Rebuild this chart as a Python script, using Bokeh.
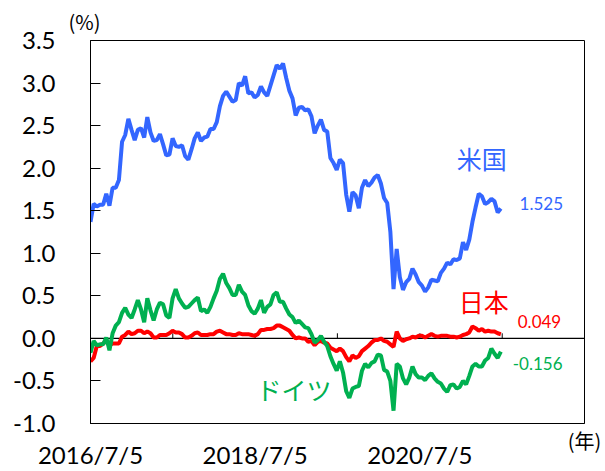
import pandas as pd
from bokeh.plotting import figure
from bokeh.models import (ColumnDataSource, Range1d, FixedTicker, NumeralTickFormatter,
                          Span, Label, Title, DatetimeAxis)
from bokeh.embed import file_html
from bokeh.resources import INLINE

# ---- data (10-year government bond yields, %, read every two weeks) ----
start_date = "2016-07-05"
n_points = 131
dates = pd.date_range(start_date, periods=n_points, freq="14D")

us = [1.37, 1.58, 1.55, 1.57, 1.57, 1.70, 1.56, 1.77, 1.77, 1.86,
      2.31, 2.39, 2.58, 2.45, 2.33, 2.45, 2.47, 2.36, 2.60, 2.42,
      2.32, 2.33, 2.40, 2.28, 2.15, 2.16, 2.35, 2.26, 2.25, 2.27,
      2.14, 2.10, 2.22, 2.35, 2.42, 2.32, 2.36, 2.37, 2.46, 2.46,
      2.54, 2.73, 2.85, 2.90, 2.84, 2.78, 2.80, 3.00, 2.97, 3.08,
      2.88, 2.89, 2.83, 2.86, 2.96, 2.89, 2.85, 2.97, 3.09, 3.21,
      3.17, 3.23, 3.06, 2.91, 2.82, 2.62, 2.71, 2.72, 2.68, 2.69,
      2.61, 2.41, 2.50, 2.57, 2.45, 2.43, 2.12, 2.06, 1.98, 2.10,
      2.06, 1.69, 1.49, 1.72, 1.68, 1.53, 1.77, 1.86, 1.79, 1.83,
      1.89, 1.92, 1.82, 1.65, 1.59, 1.25, 0.58, 1.05, 0.72, 0.57,
      0.66, 0.70, 0.82, 0.75, 0.66, 0.62, 0.55, 0.60, 0.69, 0.68,
      0.67, 0.77, 0.82, 0.89, 0.87, 0.93, 0.92, 0.94, 1.13, 1.04,
      1.16, 1.37, 1.54, 1.70, 1.67, 1.58, 1.60, 1.64, 1.61, 1.48,
      1.525]

jp = [-0.27, -0.23, -0.09, -0.09, -0.06, -0.03, -0.08, -0.06, -0.06, -0.06,
      0.02, 0.04, 0.08, 0.05, 0.06, 0.09, 0.09, 0.06, 0.08, 0.06,
      0.01, 0.01, 0.04, 0.04, 0.04, 0.06, 0.09, 0.07, 0.07, 0.05,
      0.01, 0.01, 0.03, 0.06, 0.07, 0.04, 0.04, 0.04, 0.05, 0.05,
      0.08, 0.09, 0.07, 0.05, 0.05, 0.04, 0.04, 0.06, 0.05, 0.05,
      0.05, 0.04, 0.03, 0.05, 0.10, 0.10, 0.11, 0.11, 0.12, 0.15,
      0.15, 0.13, 0.11, 0.09, 0.04, 0.00, 0.01, 0.00, 0.00, -0.04,
      -0.03, -0.08, -0.04, -0.03, -0.05, -0.06, -0.11, -0.13, -0.15, -0.12,
      -0.15, -0.22, -0.27, -0.20, -0.23, -0.21, -0.15, -0.12, -0.09, -0.05,
      -0.02, -0.02, 0.00, -0.03, -0.04, -0.07, -0.10, 0.08, 0.00, -0.03,
      -0.01, 0.00, 0.02, 0.01, 0.03, 0.03, 0.01, 0.03, 0.05, 0.03,
      0.02, 0.03, 0.03, 0.03, 0.02, 0.02, 0.01, 0.02, 0.04, 0.05,
      0.07, 0.14, 0.12, 0.09, 0.11, 0.08, 0.09, 0.08, 0.08, 0.06,
      0.049]

de = [-0.17, -0.03, -0.08, -0.07, -0.07, 0.01, -0.14, 0.06, 0.15, 0.19,
      0.30, 0.36, 0.28, 0.24, 0.34, 0.45, 0.34, 0.19, 0.47, 0.33,
      0.21, 0.34, 0.42, 0.40, 0.27, 0.24, 0.47, 0.58, 0.47, 0.41,
      0.36, 0.37, 0.41, 0.45, 0.48, 0.32, 0.34, 0.30, 0.37, 0.47,
      0.56, 0.70, 0.76, 0.65, 0.59, 0.51, 0.51, 0.63, 0.55, 0.51,
      0.39, 0.32, 0.29, 0.35, 0.45, 0.30, 0.37, 0.40, 0.51, 0.54,
      0.43, 0.43, 0.35, 0.28, 0.25, 0.18, 0.21, 0.17, 0.13, 0.12,
      0.05, -0.05, -0.02, 0.03, -0.04, -0.09, -0.21, -0.30, -0.38, -0.27,
      -0.40, -0.62, -0.70, -0.59, -0.57, -0.56, -0.38, -0.30, -0.34, -0.29,
      -0.27, -0.19, -0.20, -0.37, -0.39, -0.50, -0.85, -0.30, -0.33, -0.47,
      -0.54, -0.46, -0.33, -0.42, -0.46, -0.46, -0.49, -0.44, -0.41, -0.47,
      -0.51, -0.53, -0.59, -0.63, -0.55, -0.54, -0.59, -0.57, -0.50, -0.54,
      -0.44, -0.33, -0.30, -0.33, -0.33, -0.26, -0.23, -0.12, -0.18, -0.23,
      -0.156]

series_names = ["米国", "日本", "ドイツ"]
last_labels = ["1.525", "0.049", "-0.156"]

x_label_dates = ["2016-07-05", "2018-07-05", "2020-07-05"]
x_label_texts = ["2016/7/5", "2018/7/5", "2020/7/5"]
year_tick_dates = ["2017-07-05", "2018-07-05", "2019-07-05", "2020-07-05", "2021-07-05"]
y_ticks = [-1.0, -0.5, 0.0, 0.5, 1.0, 1.5, 2.0, 2.5, 3.0, 3.5]
x_end_date = "2022-07-05"
x_unit_label = "(年)"
y_unit_label = "(%)"

BLUE = "#3366FF"
RED = "#FF0000"
GREEN = "#00B050"
NUM_FONT = "Lato"
JP_FONT = "Noto Sans CJK JP"


def ms(d):
    return pd.Timestamp(d).value / 1e6


def ms_off(days):
    return (pd.Timestamp(start_date) + pd.Timedelta(days=days)).value / 1e6


src = ColumnDataSource(dict(date=dates, us=us, jp=jp, de=de))

p = figure(width=605, height=471, x_axis_type="datetime",
           output_backend="svg", toolbar_location=None,
           x_range=Range1d(ms(start_date), ms(x_end_date)),
           y_range=Range1d(-1.0, 3.5),
           min_border_left=90, min_border_right=21,
           min_border_top=40, min_border_bottom=0)
p.background_fill_color = "white"
p.border_fill_color = "white"
p.outline_line_color = "black"
p.outline_line_width = 1
p.xgrid.visible = False
p.ygrid.visible = False

# zero line with yearly ticks
p.add_layout(Span(location=0, dimension="width", line_color="black",
                  line_width=1.2, level="underlay"))
tick_x = [ms(d) for d in year_tick_dates]
p.segment(x0=tick_x, y0=[0.0] * len(tick_x), x1=tick_x, y1=[0.06] * len(tick_x),
          line_color="black", line_width=1)

# series
p.line("date", "us", source=src, line_color=BLUE, line_width=4)
p.line("date", "jp", source=src, line_color=RED, line_width=4)
p.line("date", "de", source=src, line_color=GREEN, line_width=4)


def style_x(ax):
    ax.major_tick_in = 0
    ax.major_tick_out = 0
    ax.major_tick_line_color = None
    ax.minor_tick_line_color = None
    ax.minor_tick_in = 0
    ax.minor_tick_out = 0
    ax.major_label_text_color = "black"


# x axis 1 (next to the frame): carries the unit label at the right end
xa = p.xaxis[0]
style_x(xa)
xa.ticker = FixedTicker(ticks=[ms(x_end_date)])
xa.major_label_overrides = {ms(x_end_date): x_unit_label}
xa.axis_line_color = "black"
xa.major_label_standoff = 2
xa.major_label_text_font = JP_FONT
xa.major_label_text_font_size = "20px"

# x axis 2: the date labels
xb = DatetimeAxis()
style_x(xb)
xb.ticker = FixedTicker(ticks=[ms(d) for d in x_label_dates])
xb.major_label_overrides = {ms(d): t for d, t in zip(x_label_dates, x_label_texts)}
xb.axis_line_color = None
xb.major_label_standoff = -18
xb.major_label_text_font = NUM_FONT
xb.major_label_text_font_size = "24px"
p.add_layout(xb, "below")

# y axis
ya = p.yaxis[0]
ya.ticker = FixedTicker(ticks=y_ticks)
ya.formatter = NumeralTickFormatter(format="0.0")
ya.major_tick_in = 10
ya.major_tick_out = 0
ya.major_tick_line_color = "black"
ya.minor_tick_line_color = None
ya.axis_line_color = "black"
ya.major_label_standoff = 35
ya.major_label_text_font = NUM_FONT
ya.major_label_text_font_size = "24px"
ya.major_label_text_color = "black"

# annotations
colors = [BLUE, RED, GREEN]
name_pos = [(1735, 2.12), (1744, 0.44), (903, -0.60)]
for name, (d, yv), c in zip(series_names, name_pos, colors):
    p.add_layout(Label(x=ms_off(d), y=yv, text=name, text_font=JP_FONT,
                       text_font_size="25px", text_color=c,
                       text_align="center", text_baseline="middle"))

val_pos = [(1903, 1.58), (1895, 0.195), (1873, -0.29)]
for txt, (d, yv), c in zip(last_labels, val_pos, colors):
    p.add_layout(Label(x=ms_off(d), y=yv, text=txt, text_font=NUM_FONT,
                       text_font_size="17px", text_color=c,
                       text_align="left", text_baseline="middle"))

# unit label of the value axis, above the plot area
p.add_layout(Title(text=y_unit_label, align="left", offset=-22, standoff=9,
                   text_font=JP_FONT, text_font_size="20px",
                   text_font_style="normal", text_color="black"), "above")

open("out.html", "w").write(file_html(p, INLINE))
